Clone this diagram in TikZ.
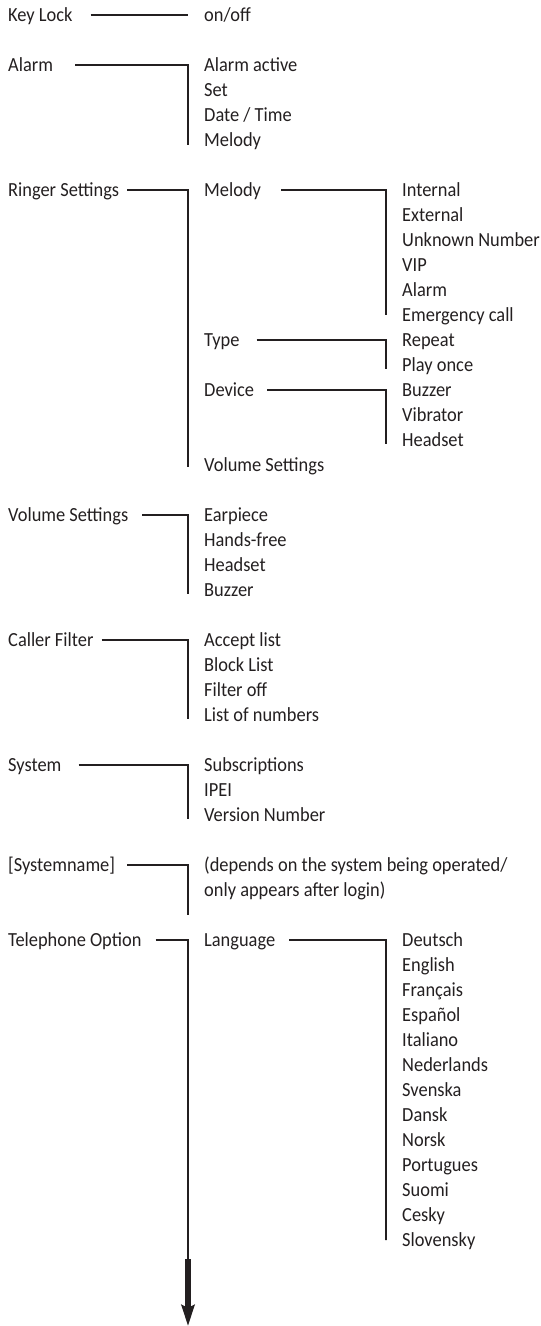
\documentclass[tikz,border=0pt]{standalone}
\usepackage{fontspec}
\setmainfont{Carlito}[FakeStretch=0.92]
\usetikzlibrary{arrows.meta}
\definecolor{ink}{RGB}{35,31,32}
\tikzset{
	item/.style={anchor=base west, inner sep=0pt, text height=13pt, text depth=0pt, text=ink, font=\fontsize{20}{24}\selectfont},
	link/.style={ink, line width=1.2pt, line join=miter}
}
\begin{document}
\begin{tikzpicture}[x=1pt, y=-1pt]
	\useasboundingbox (0,0) rectangle (541,1326);
	\coordinate (bar1) at (188,0);
	\coordinate (bar2) at (386,0);

	\node[item] (keylock) at (8,21.5) {Key Lock};
	\node[item] (alarm) at (8,71.5) {Alarm};
	\node[item] (ringer) at (8,196.5) {Ringer Settings};
	\node[item] (volume) at (8,521.5) {Volume Settings};
	\node[item] (filter) at (8,646.5) {Caller Filter};
	\node[item] (system) at (8,771.5) {System};
	\node[item] (sysname) at (8,871.5) {[Systemname]};
	\node[item] (phone) at (8,946.5) {Telephone Option};

	\node[item] (onoff) at (204,21.5) {on/off};
	\foreach \t [count=\i from 0] in {Alarm active, Set, Date / Time, Melody}
		\node[item] (alm\i) at (204,71.5+25*\i) {\t};
	\node[item] (ringmel) at (204,196.5) {Melody};
	\node[item] (ringtype) at (204,346.5) {Type};
	\node[item] (ringdev) at (204,396.5) {Device};
	\node[item] (ringvol) at (204,471.5) {Volume Settings};
	\foreach \t [count=\i from 0] in {Earpiece, Hands-free, Headset, Buzzer}
		\node[item] (vol\i) at (204,521.5+25*\i) {\t};
	\foreach \t [count=\i from 0] in {Accept list, Block List, Filter off, List of numbers}
		\node[item] (flt\i) at (204,646.5+25*\i) {\t};
	\foreach \t [count=\i from 0] in {Subscriptions, IPEI, Version Number}
		\node[item] (sys\i) at (204,771.5+25*\i) {\t};
	\node[item] (sysn0) at (204,871.5) {(depends on the system being operated/};
	\node[item] (sysn1) at (204,896.5) {only appears after login)};
	\node[item] (lang) at (204,946.5) {Language};

	\foreach \t [count=\i from 0] in {Internal, External, Unknown Number, VIP, Alarm, Emergency call}
		\node[item] (mel\i) at (402,196.5+25*\i) {\t};
	\foreach \t [count=\i from 0] in {Repeat, Play once}
		\node[item] (typ\i) at (402,346.5+25*\i) {\t};
	\foreach \t [count=\i from 0] in {Buzzer, Vibrator, Headset}
		\node[item] (dev\i) at (402,396.5+25*\i) {\t};
	\foreach \t [count=\i from 0] in {Deutsch, English, Français, Español, Italiano, Nederlands, Svenska, Dansk, Norsk, Portugues, Suomi, Cesky, Slovensky}
		\node[item] (lng\i) at (402,946.5+25*\i) {\t};

	\draw[link] ([xshift=18pt]keylock.east) -- (keylock.east -| bar1);
	\draw[link] ([xshift=22pt]alarm.east) -- (alarm.east -| bar1) -- (alm3.east -| bar1) -- ++(0,5);
	\draw[link] ([xshift=8pt]ringer.east) -- (ringer.east -| bar1) -- (ringvol.east -| bar1) -- ++(0,2);
	\draw[link] ([xshift=20pt]ringmel.east) -- (ringmel.east -| bar2) -- (mel5.east -| bar2);
	\draw[link] ([xshift=17pt]ringtype.east) -- (ringtype.east -| bar2) -- (typ1.east -| bar2) -- ++(0,4);
	\draw[link] ([xshift=13pt]ringdev.east) -- (ringdev.east -| bar2) -- (dev2.east -| bar2) -- ++(0,4);
	\draw[link] ([xshift=14pt]volume.east) -- (volume.east -| bar1) -- (vol3.east -| bar1) -- ++(0,4);
	\draw[link] ([xshift=8pt]filter.east) -- (filter.east -| bar1) -- (flt3.east -| bar1) -- ++(0,4);
	\draw[link] ([xshift=17pt]system.east) -- (system.east -| bar1) -- (sys2.east -| bar1) -- ++(0,4);
	\draw[link] ([xshift=12pt]sysname.east) -- (sysname.east -| bar1) -- (sysn1.east -| bar1) -- ++(0,25);
	\draw[link] ([xshift=14pt]lang.east) -- (lang.east -| bar2) -- (lng12.east -| bar2) -- ++(0,-4);

	\coordinate (arrtop) at (188,1259);
	\coordinate (arrtip) at (188,1326);
	\draw[link] ([xshift=14pt]phone.east) -- (phone.east -| bar1) -- (arrtop -| bar1) -- ++(0,-8);
	\draw[ink, line width=5.5pt, -{Stealth[length=21pt, width=13pt, inset=3pt]}] (arrtop) -- (arrtip);
\end{tikzpicture}
\end{document}
